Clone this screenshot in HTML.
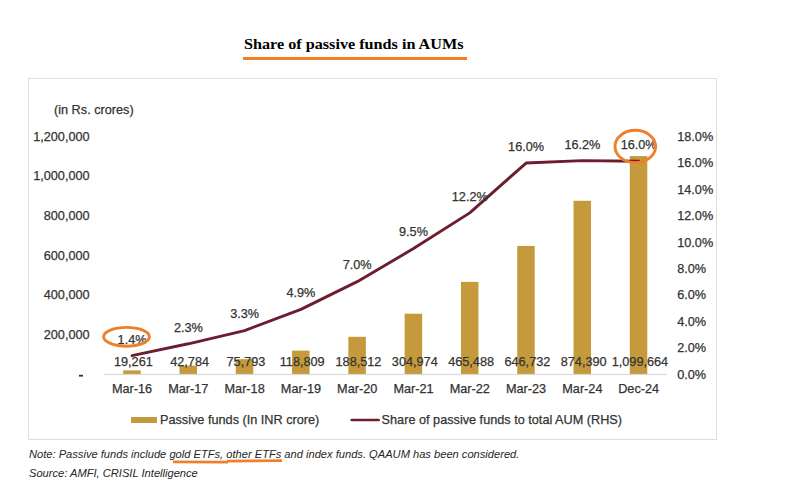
<!DOCTYPE html>
<html><head><meta charset="utf-8"><style>
svg text.t{stroke:#333;stroke-width:0.25px}
html,body{margin:0;padding:0;background:#fff;width:786px;height:490px;overflow:hidden;position:relative;font-family:"Liberation Sans",sans-serif}
</style></head><body>
<svg width="786" height="490" viewBox="0 0 786 490" style="position:absolute;left:0;top:0">
<rect x="28.5" y="78.5" width="688" height="361" fill="#fff" stroke="#DEDEDE" stroke-width="1"/>
<text x="244" y="48.8" font-family="Liberation Serif" font-weight="bold" font-size="15.3" fill="#000" textLength="219.5" lengthAdjust="spacingAndGlyphs">Share of passive funds in AUMs</text>
<rect x="243" y="57" width="224" height="3" fill="#F07F2A"/>
<text x="54" y="113.9932" class="t" font-family="Liberation Sans" font-size="12.7" fill="#333333">(in Rs. crores)</text>
<rect x="123.20" y="370.38" width="17.5" height="3.82" fill="#C49A3C"/>
<rect x="179.49" y="365.71" width="17.5" height="8.49" fill="#C49A3C"/>
<rect x="235.78" y="359.17" width="17.5" height="15.03" fill="#C49A3C"/>
<rect x="292.06" y="350.64" width="17.5" height="23.56" fill="#C49A3C"/>
<rect x="348.36" y="336.81" width="17.5" height="37.39" fill="#C49A3C"/>
<rect x="404.64" y="313.71" width="17.5" height="60.49" fill="#C49A3C"/>
<rect x="460.93" y="281.88" width="17.5" height="92.32" fill="#C49A3C"/>
<rect x="517.23" y="245.93" width="17.5" height="128.27" fill="#C49A3C"/>
<rect x="573.51" y="200.78" width="17.5" height="173.42" fill="#C49A3C"/>
<rect x="629.80" y="156.10" width="17.5" height="218.10" fill="#C49A3C"/>
<rect x="103.9" y="373.9" width="562.9" height="1.2" fill="#D9D9D9"/>
<text x="89.6" y="140.75" text-anchor="end" class="t" font-family="Liberation Sans" font-size="12.7" fill="#333333">1,200,000</text>
<text x="89.6" y="180.41" text-anchor="end" class="t" font-family="Liberation Sans" font-size="12.7" fill="#333333">1,000,000</text>
<text x="89.6" y="220.08" text-anchor="end" class="t" font-family="Liberation Sans" font-size="12.7" fill="#333333">800,000</text>
<text x="89.6" y="259.75" text-anchor="end" class="t" font-family="Liberation Sans" font-size="12.7" fill="#333333">600,000</text>
<text x="89.6" y="299.41" text-anchor="end" class="t" font-family="Liberation Sans" font-size="12.7" fill="#333333">400,000</text>
<text x="89.6" y="339.08" text-anchor="end" class="t" font-family="Liberation Sans" font-size="12.7" fill="#333333">200,000</text>
<rect x="79" y="374.8" width="4" height="1.8" fill="#333333"/>
<text x="677.2" y="140.75" class="t" font-family="Liberation Sans" font-size="12.7" fill="#333333">18.0%</text>
<text x="677.2" y="167.19" class="t" font-family="Liberation Sans" font-size="12.7" fill="#333333">16.0%</text>
<text x="677.2" y="193.64" class="t" font-family="Liberation Sans" font-size="12.7" fill="#333333">14.0%</text>
<text x="677.2" y="220.08" class="t" font-family="Liberation Sans" font-size="12.7" fill="#333333">12.0%</text>
<text x="677.2" y="246.52" class="t" font-family="Liberation Sans" font-size="12.7" fill="#333333">10.0%</text>
<text x="677.2" y="272.97" class="t" font-family="Liberation Sans" font-size="12.7" fill="#333333">8.0%</text>
<text x="677.2" y="299.41" class="t" font-family="Liberation Sans" font-size="12.7" fill="#333333">6.0%</text>
<text x="677.2" y="325.86" class="t" font-family="Liberation Sans" font-size="12.7" fill="#333333">4.0%</text>
<text x="677.2" y="352.30" class="t" font-family="Liberation Sans" font-size="12.7" fill="#333333">2.0%</text>
<text x="677.2" y="378.75" class="t" font-family="Liberation Sans" font-size="12.7" fill="#333333">0.0%</text>
<polyline points="132.05,355.69 188.34,343.79 244.62,330.57 300.91,309.41 357.21,281.64 413.50,248.59 469.78,212.89 526.08,163.04 582.37,160.66 638.65,161.32" fill="none" stroke="#6C1E30" stroke-width="2.9" stroke-linejoin="round" stroke-linecap="round"/>
<text x="133.35" y="365.85" text-anchor="middle" class="t" font-family="Liberation Sans" font-size="12.7" fill="#333333">19,261</text>
<text x="189.64" y="365.85" text-anchor="middle" class="t" font-family="Liberation Sans" font-size="12.7" fill="#333333">42,784</text>
<text x="245.93" y="365.85" text-anchor="middle" class="t" font-family="Liberation Sans" font-size="12.7" fill="#333333">75,793</text>
<text x="302.21" y="365.85" text-anchor="middle" class="t" font-family="Liberation Sans" font-size="12.7" fill="#333333">118,809</text>
<text x="358.51" y="365.85" text-anchor="middle" class="t" font-family="Liberation Sans" font-size="12.7" fill="#333333">188,512</text>
<text x="414.80" y="365.85" text-anchor="middle" class="t" font-family="Liberation Sans" font-size="12.7" fill="#333333">304,974</text>
<text x="471.08" y="365.85" text-anchor="middle" class="t" font-family="Liberation Sans" font-size="12.7" fill="#333333">465,488</text>
<text x="527.38" y="365.85" text-anchor="middle" class="t" font-family="Liberation Sans" font-size="12.7" fill="#333333">646,732</text>
<text x="583.66" y="365.85" text-anchor="middle" class="t" font-family="Liberation Sans" font-size="12.7" fill="#333333">874,390</text>
<text x="639.95" y="365.85" text-anchor="middle" class="t" font-family="Liberation Sans" font-size="12.7" fill="#333333">1,099,664</text>
<text x="132.05" y="343.54" text-anchor="middle" class="t" font-family="Liberation Sans" font-size="12.7" fill="#333333">1.4%</text>
<text x="188.34" y="331.64" text-anchor="middle" class="t" font-family="Liberation Sans" font-size="12.7" fill="#333333">2.3%</text>
<text x="244.62" y="318.41" text-anchor="middle" class="t" font-family="Liberation Sans" font-size="12.7" fill="#333333">3.3%</text>
<text x="300.91" y="297.26" text-anchor="middle" class="t" font-family="Liberation Sans" font-size="12.7" fill="#333333">4.9%</text>
<text x="357.21" y="269.49" text-anchor="middle" class="t" font-family="Liberation Sans" font-size="12.7" fill="#333333">7.0%</text>
<text x="413.50" y="236.44" text-anchor="middle" class="t" font-family="Liberation Sans" font-size="12.7" fill="#333333">9.5%</text>
<text x="469.78" y="200.74" text-anchor="middle" class="t" font-family="Liberation Sans" font-size="12.7" fill="#333333">12.2%</text>
<text x="526.08" y="150.89" text-anchor="middle" class="t" font-family="Liberation Sans" font-size="12.7" fill="#333333">16.0%</text>
<text x="582.37" y="148.51" text-anchor="middle" class="t" font-family="Liberation Sans" font-size="12.7" fill="#333333">16.2%</text>
<text x="638.65" y="149.17" text-anchor="middle" class="t" font-family="Liberation Sans" font-size="12.7" fill="#333333">16.0%</text>
<text x="132.05" y="393.20" text-anchor="middle" class="t" font-family="Liberation Sans" font-size="12.7" fill="#333333">Mar-16</text>
<text x="188.34" y="393.20" text-anchor="middle" class="t" font-family="Liberation Sans" font-size="12.7" fill="#333333">Mar-17</text>
<text x="244.62" y="393.20" text-anchor="middle" class="t" font-family="Liberation Sans" font-size="12.7" fill="#333333">Mar-18</text>
<text x="300.91" y="393.20" text-anchor="middle" class="t" font-family="Liberation Sans" font-size="12.7" fill="#333333">Mar-19</text>
<text x="357.21" y="393.20" text-anchor="middle" class="t" font-family="Liberation Sans" font-size="12.7" fill="#333333">Mar-20</text>
<text x="413.50" y="393.20" text-anchor="middle" class="t" font-family="Liberation Sans" font-size="12.7" fill="#333333">Mar-21</text>
<text x="469.78" y="393.20" text-anchor="middle" class="t" font-family="Liberation Sans" font-size="12.7" fill="#333333">Mar-22</text>
<text x="526.08" y="393.20" text-anchor="middle" class="t" font-family="Liberation Sans" font-size="12.7" fill="#333333">Mar-23</text>
<text x="582.37" y="393.20" text-anchor="middle" class="t" font-family="Liberation Sans" font-size="12.7" fill="#333333">Mar-24</text>
<text x="638.65" y="393.20" text-anchor="middle" class="t" font-family="Liberation Sans" font-size="12.7" fill="#333333">Dec-24</text>
<rect x="131" y="417" width="26" height="6" fill="#C49A3C"/>
<text x="160" y="423.7" class="t" font-family="Liberation Sans" font-size="12.7" fill="#333333">Passive funds (In INR crore)</text>
<line x1="351.7" y1="420" x2="378.6" y2="420" stroke="#6C1E30" stroke-width="2.7" stroke-linecap="round"/>
<text x="381.6" y="423.7" class="t" font-family="Liberation Sans" font-size="12.7" fill="#333333">Share of passive funds to total AUM (RHS)</text>
<ellipse cx="126.5" cy="336.8" rx="22.9" ry="9.4" fill="none" stroke="#F07F2A" stroke-width="2.9"/>
<ellipse cx="635.3" cy="146.5" rx="20.3" ry="16.2" fill="none" stroke="#F07F2A" stroke-width="2.9"/>
<text x="29" y="457.8" font-family="Liberation Sans" font-style="italic" font-size="11.13" fill="#262626">Note: Passive funds include gold ETFs, other ETFs and index funds. QAAUM has been considered.</text>
<text x="29" y="476.9" font-family="Liberation Sans" font-style="italic" font-size="11.13" fill="#262626">Source: AMFI, CRISIL Intelligence</text>
<path d="M173 461.8 L227.8 462.1" stroke="#F07F2A" stroke-width="2.8" fill="none"/>
<path d="M227 461.1 L282 460.7" stroke="#F07F2A" stroke-width="2.8" fill="none"/>
</svg>
</body></html>
